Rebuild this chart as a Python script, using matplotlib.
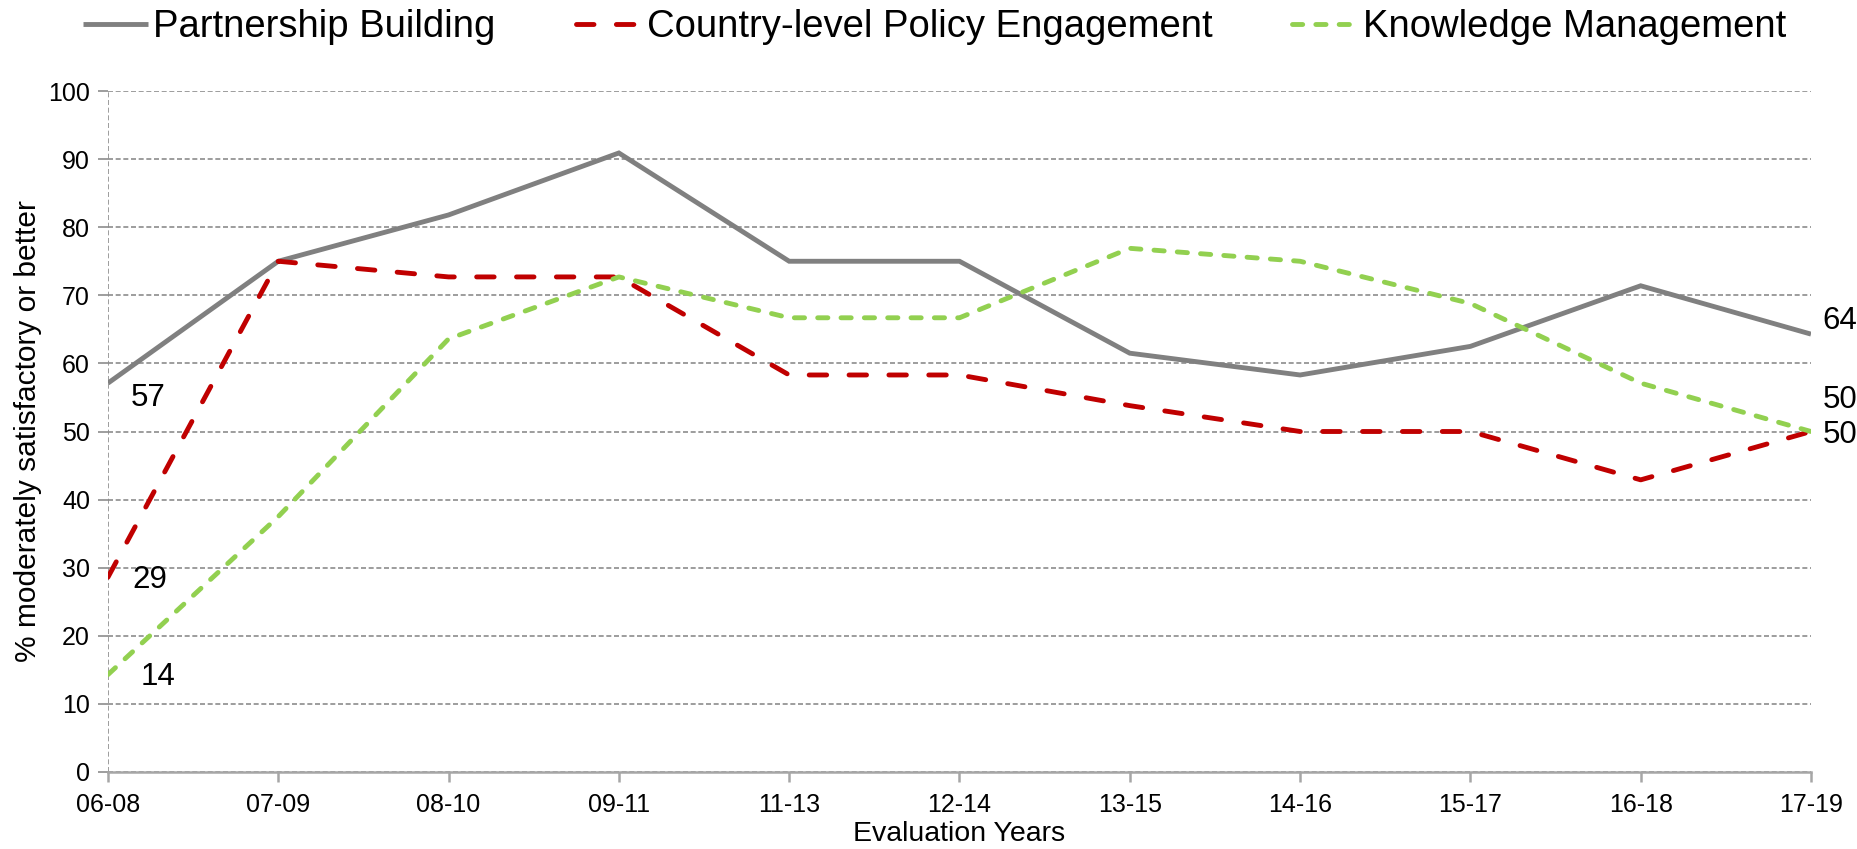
import matplotlib
matplotlib.use("Agg")
import matplotlib.pyplot as plt
from matplotlib.lines import Line2D

plt.rcParams['font.family'] = ['Liberation Sans', 'DejaVu Sans']

periods = ["06-08", "07-09", "08-10", "09-11", "11-13", "12-14",
           "13-15", "14-16", "15-17", "16-18", "17-19"]
partnership = [57.1, 75.0, 81.8, 90.9, 75.0, 75.0, 61.5, 58.3, 62.5, 71.4, 64.3]
policy = [28.6, 75.0, 72.7, 72.7, 58.3, 58.3, 53.8, 50.0, 50.0, 42.9, 50.0]
knowledge = [14.3, 37.5, 63.6, 72.7, 66.7, 66.7, 76.9, 75.0, 68.8, 57.1, 50.0]
series_names = ["Partnership Building", "Country-level Policy Engagement",
                "Knowledge Management"]
yticks = list(range(0, 101, 10))

GRAY = "#808080"
RED = "#C00000"
GREEN = "#92D050"
GRID = "#8c8c8c"

fig = plt.figure(figsize=(18.58, 8.49), dpi=100)
ax = fig.add_axes([0.0581, 0.0907, 0.9166, 0.8021])

x = list(range(len(periods)))
lw = 3.5
red_dash = (3.6, 4.6)
green_dash = (2.1, 2.7)
ax.plot(x, partnership, color=GRAY, lw=lw, solid_capstyle='butt',
        solid_joinstyle='miter', zorder=3)
ax.plot(x, policy, color=RED, lw=lw, dashes=red_dash,
        dash_capstyle='round', zorder=3)
ax.plot(x, knowledge, color=GREEN, lw=lw, dashes=green_dash,
        dash_capstyle='round', zorder=3)

ax.set_xlim(0, len(periods) - 1)
ax.set_ylim(0, 100)
ax.set_yticks(yticks)
ax.set_xticks(x)
ax.set_xticklabels(periods)

for s in ("top", "right", "left"):
    ax.spines[s].set_visible(False)
ax.spines["bottom"].set_color("#a6a6a6")
ax.spines["bottom"].set_linewidth(1.8)

grid_style = dict(color=GRID, linestyle=(0, (3, 1.6)), linewidth=1.2, zorder=1)
ax.grid(axis='y', **grid_style)
ax.axvline(0, **grid_style)

ax.tick_params(axis='y', length=7, width=1.2, color=GRID, pad=6,
               labelsize=18)
ax.tick_params(axis='x', length=7, width=1.8, color="#a6a6a6", pad=8,
               labelsize=18)

ax.set_ylabel("% moderately satisfactory or better", fontsize=21.5, labelpad=4)
ax.set_xlabel("Evaluation Years", fontsize=20.5, labelpad=3)

# end-point value labels
lab_fs = 22.5
last = len(periods) - 1
label_specs = [
    (0, partnership[0], (40, -15)),
    (0, policy[0], (42, -3)),
    (0, knowledge[0], (50, -2)),
    (last, partnership[last], (29, 13)),
    (last, knowledge[last], (29, 32)),
    (last, policy[last], (29, -3)),
]
for xi, yi, off in label_specs:
    ax.annotate(f"{yi:.0f}", (xi, yi), xytext=off, textcoords='offset pixels',
                ha='center', va='center', fontsize=lab_fs, annotation_clip=False)

handles = [
    Line2D([], [], color=GRAY, lw=lw, solid_capstyle='butt'),
    Line2D([], [], color=RED, lw=lw, dashes=red_dash, dash_capstyle='round'),
    Line2D([], [], color=GREEN, lw=lw, dashes=green_dash, dash_capstyle='round'),
]
fig.legend(handles, series_names, loc='center', bbox_to_anchor=(0.503, 0.968),
           ncol=3, frameon=False, fontsize=27.5, handlelength=1.7,
           handletextpad=0.15, columnspacing=2.1, borderaxespad=0, borderpad=0)

fig.savefig("out.png", dpi=100)
